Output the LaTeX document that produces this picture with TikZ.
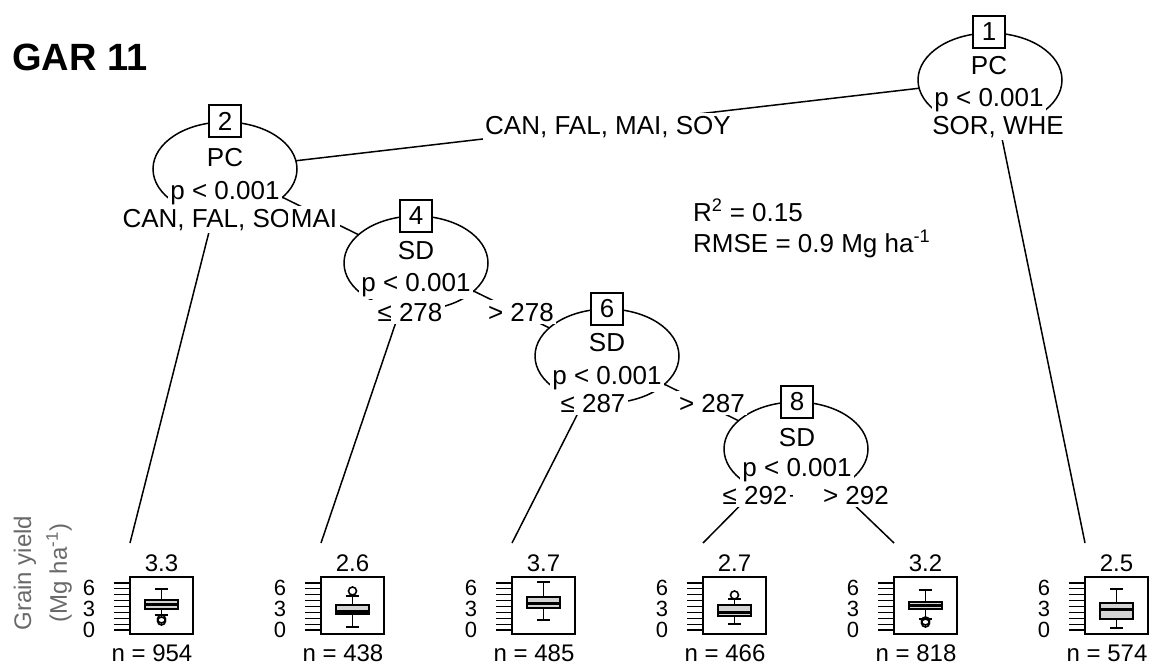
\documentclass[tikz,border=0pt]{standalone}
\usepackage{fontspec}
\setmainfont{Liberation Sans}
\usetikzlibrary{shapes.geometric,backgrounds}
\newcommand\mainfs{\fontsize{26}{31}\selectfont}
\newcommand\leaffs{\fontsize{24}{29}\selectfont}
\newcommand\tickfs{\fontsize{22}{26}\selectfont}
\newcommand\ylabfs{\fontsize{24}{28}\selectfont}
\definecolor{boxgray}{RGB}{211,211,211}
\definecolor{labgray}{RGB}{105,105,105}
\begin{document}
\begin{tikzpicture}[x=1pt,y=-1pt,
  ell/.style={ellipse,draw,fill=white,line width=1.5pt,minimum width=144pt,minimum height=94pt,inner sep=0pt},
  numbox/.style={draw,fill=white,line width=1.4pt,minimum size=32pt,inner sep=0pt,font=\mainfs},
  txt/.style={inner sep=0pt,anchor=base,font=\mainfs},
  ltxt/.style={inner sep=0pt,anchor=base,font=\leaffs},
  elab/.style={fill=white,inner sep=2.5pt,anchor=base,font=\mainfs},
  edge/.style={line width=1.5pt},
  leafbox/.style={draw,line width=1.4pt,minimum width=63pt,minimum height=57pt,inner sep=0pt},
  tickln/.style={line width=1.2pt},
  ticklab/.style={inner sep=0pt,anchor=base,font=\tickfs},
  bxline/.style={line width=1.2pt},
  med/.style={line width=3pt},
  outl/.style={line width=1.6pt},
]
\useasboundingbox (0,0) rectangle (1152,664);

% title
\node[inner sep=0pt,anchor=base west,font=\fontsize{38}{44}\selectfont\bfseries] (title) at (12,70) {GAR 11};

% inner nodes: ellipses
\node[ell] (n1) at (990,80) {};
\node[ell] (n2) at (225,169) {};
\node[ell] (n4) at (416,263) {};
\node[ell] (n6) at (607,356) {};
\node[ell] (n8) at (796,449) {};

% number boxes
\node[numbox] (b1) at (989,32) {1};
\node[numbox] (b2) at (225,121) {2};
\node[numbox] (b4) at (416,216) {4};
\node[numbox] (b6) at (607,309) {6};
\node[numbox] (b8) at (797,402) {8};

% variable names and p values
\node[txt] (v1) at (989,74) {PC};
\node[elab] (p1) at (989,106) {p < 0.001};
\node[txt] (v2) at (225,166) {PC};
\node[elab] (p2) at (225,199) {p < 0.001};
\node[txt] (v4) at (416,259) {SD};
\node[elab] (p4) at (416,291) {p < 0.001};
\node[txt] (v6) at (607,351) {SD};
\node[elab] (p6) at (607,384) {p < 0.001};
\node[txt] (v8) at (797,446) {SD};
\node[elab] (p8) at (797,476) {p < 0.001};

% edge labels
\node[elab] (e1l) at (608,134) {CAN, FAL, MAI, SOY};
\node[elab] (e1r) at (998,134) {SOR, WHE};
\node[elab] (e2l) at (215,227) {CAN, FAL, SOY};
\node[elab] (e2r) at (314,227) {MAI};
\node[elab] (e4l) at (406,321) {\hspace*{8pt}≤ 278};
\node[elab] (e4r) at (521,321) {> 278};
\node[elab] (e6l) at (589,412) {\hspace*{8pt}≤ 287};
\node[elab] (e6r) at (712,412) {> 287};
\node[elab] (e8l) at (751,504) {\hspace*{8pt}≤ 292};
\node[elab] (e8r) at (842,504) {\hspace*{28pt}> 292};

% fit statistics
\node[inner sep=0pt,anchor=base west,font=\mainfs] (r2) at (693,221) {R\textsuperscript{2} = 0.15};
\node[inner sep=0pt,anchor=base west,font=\mainfs] (rmse) at (693,252) {RMSE = 0.9 Mg ha\textsuperscript{-1}};

% y axis title
\node[inner sep=0pt,rotate=90,font=\ylabfs,text=labgray] (yl1) at (25,573) {Grain yield};
\node[inner sep=0pt,rotate=90,font=\ylabfs,text=labgray] (yl2) at (59,573) {(Mg ha\textsuperscript{-1})};

% terminal panels
\foreach \i/\xo/\mn/\nn/\uw/\bt/\md/\bb/\lw in {
  1/130/3.3/954/589/600/604/609/615,
  2/321/2.6/438/596/605/611/614/627,
  3/512/3.7/485/582/597/603/608/620,
  4/703/2.7/466/599/605/612.5/616/624,
  5/894/3.2/818/590/602/605.5/609/619,
  6/1085/2.5/574/589/603/609/619/628} {
  \coordinate (t\i) at (\xo,543);
  \node[ltxt] (m\i) at (\xo+31.5,571) {\mn};
  \node[ltxt] (nn\i) at (\xo+22,661) {n = \nn};
  \foreach \k in {0,...,8} {
    \draw[tickln] (\xo-16,583+\k*5.875) -- (\xo,583+\k*5.875);
  }
  \node[ticklab] (ya\i) at (\xo-41,595) {6};
  \node[ticklab] (yb\i) at (\xo-41,616) {3};
  \node[ticklab] (yc\i) at (\xo-41,637) {0};
  \draw[bxline] (\xo+31.5,\uw) -- (\xo+31.5,\bt) (\xo+31.5,\bb) -- (\xo+31.5,\lw);
  \draw[bxline] (\xo+25,\uw) -- (\xo+38,\uw) (\xo+25,\lw) -- (\xo+38,\lw);
  \draw[bxline,fill=boxgray] (\xo+15,\bt) rectangle (\xo+48,\bb);
  \draw[med] (\xo+15,\md) -- (\xo+48,\md);
  \node[leafbox] (lf\i) at (\xo+31.5,605.5) {};
}

% outliers
\foreach \y in {619,621} { \draw[outl] (161.5,\y) circle[radius=4pt]; }
\draw[outl] (352.5,591) circle[radius=4pt];
\draw[outl] (734.5,595) circle[radius=4pt];
\foreach \y in {621,623} { \draw[outl] (925.5,\y) circle[radius=4pt]; }

% connectors
\begin{scope}[on background layer]
\draw[edge] (n1.center) -- (n2.center);
\draw[edge] (n1.center) -- (t6);
\draw[edge] (n2.center) -- (t1);
\draw[edge] (n2.center) -- (n4.center);
\draw[edge] (n4.center) -- (t2);
\draw[edge] (n4.center) -- (n6.center);
\draw[edge] (n6.center) -- (t3);
\draw[edge] (n6.center) -- (n8.center);
\draw[edge] (n8.center) -- (t4);
\draw[edge] (n8.center) -- (t5);
\end{scope}
\end{tikzpicture}
\end{document}
